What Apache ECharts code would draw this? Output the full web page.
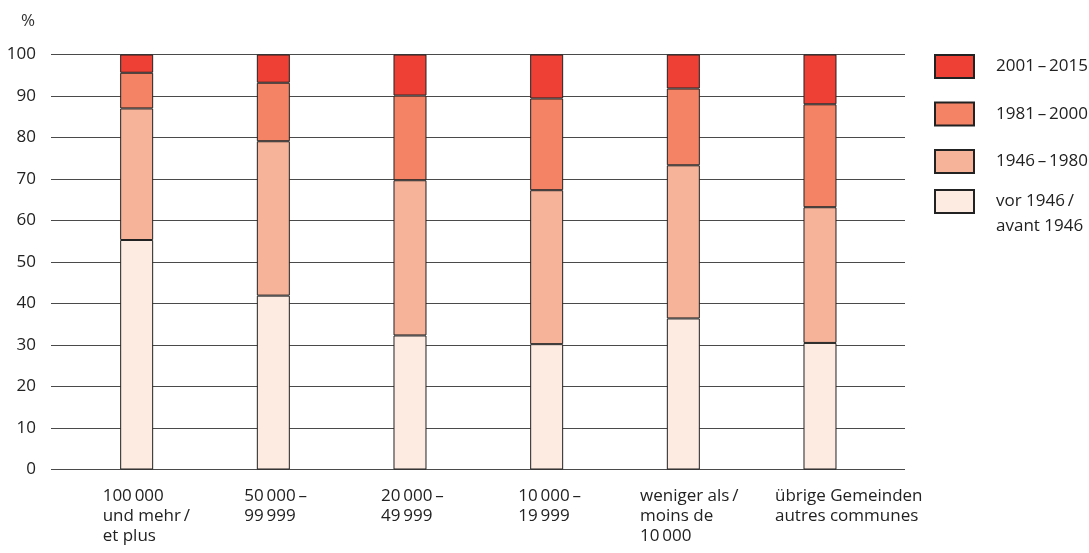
<!DOCTYPE html>
<html>
<head>
<meta charset="utf-8">
<script src="https://cdn.jsdelivr.net/npm/echarts@6/dist/echarts.min.js"></script>
<style>
html,body{margin:0;padding:0;background:#fff;}
#chart{width:1089px;height:553px;}
</style>
</head>
<body>
<div id="chart"></div>
<script>
// ---- data ----
var categories = [
  '100\u2009000\nund mehr\u2009/\net plus',
  '50\u2009000\u2009\u2013\n99\u2009999',
  '20\u2009000\u2009\u2013\n49\u2009999',
  '10\u2009000\u2009\u2013\n19\u2009999',
  'weniger als\u2009/\nmoins de\n10\u2009000',
  '\u00fcbrige Gemeinden\nautres communes'
];
var seriesNames = [
  'vor 1946\u2009/\navant 1946',
  '1946\u2009\u2013\u20091980',
  '1981\u2009\u2013\u20092000',
  '2001\u2009\u2013\u20092015'
];
var vor1946   = [55.3, 41.9, 32.3, 30.2, 36.4, 30.5];
var p1946_1980 = [31.7, 37.2, 37.4, 37.1, 36.9, 32.7];
var p1981_2000 = [8.6, 14.1, 20.4, 22.1, 18.5, 24.8];
var p2001_2015 = [4.4, 6.8, 9.9, 10.6, 8.2, 12.0];
var yTicks = [0, 10, 20, 30, 40, 50, 60, 70, 80, 90, 100];
var unitLabel = '%';

// ---- styling ----
var colors = ['#fdeae1', '#f7b39a', '#f48264', '#ee4035'];
var labelPads = [11, 16, 16, 16.6, 1.7, 0];
var FONT = '"Open Sans", "Noto Sans", sans-serif';
var TXT = '#222';

var chart = echarts.init(document.getElementById('chart'));
var values = [vor1946, p1946_1980, p1981_2000, p2001_2015];

var gTop = 54.5, gBottom = 83.5;
var labelStyle = {
  align: 'left', verticalAlign: 'top', fontSize: 17, lineHeight: 20, color: TXT, fontFamily: FONT
};
var option = {
  animation: false,
  textStyle: { fontFamily: FONT },
  title: {
    text: unitLabel, left: 21, top: 13, padding: 0,
    textStyle: { fontSize: 17, fontWeight: 'normal', color: '#333', fontFamily: FONT }
  },
  grid: [
    { left: 51, right: 184, top: gTop, bottom: gBottom },
    { left: 68.33, width: 820, top: gTop, bottom: gBottom },
    { left: 23.33, width: 820, top: gTop, bottom: gBottom }
  ],
  xAxis: [
    { gridIndex: 0, type: 'value', show: false, min: 0, max: 1 },
    { gridIndex: 1, type: 'category', data: categories, show: false },
    {
      gridIndex: 2, type: 'category',
      data: categories.map(function (c, i) {
        return { value: c, textStyle: Object.assign({ padding: [0, 0, 0, labelPads[i]] }, labelStyle) };
      }),
      axisLine: { show: false }, axisTick: { show: false }, splitLine: { show: false },
      axisLabel: Object.assign({ interval: 0, hideOverlap: false, margin: 17 }, labelStyle)
    }
  ],
  yAxis: [
    {
      gridIndex: 0, type: 'value', min: yTicks[0], max: yTicks[yTicks.length - 1], interval: 10,
      axisLine: { show: false }, axisTick: { show: false },
      splitLine: { show: true, lineStyle: { color: '#4a4a4a', width: 1 } },
      axisLabel: { fontSize: 17, color: TXT, margin: 15, fontFamily: FONT }
    },
    { gridIndex: 1, type: 'value', min: 0, max: 100, show: false },
    { gridIndex: 2, type: 'value', min: 0, max: 100, show: false }
  ],
  legend: [
    {
      data: [seriesNames[3], seriesNames[2], seriesNames[1]],
      orient: 'vertical', left: 934, top: 54, padding: 0,
      itemWidth: 39, itemHeight: 23, itemGap: 22.5, icon: 'rect',
      selectedMode: false,
      textStyle: { fontSize: 17, color: TXT, lineHeight: 20, padding: [0, 0, 0, 17], fontFamily: FONT }
    },
    {
      data: [seriesNames[0]],
      orient: 'vertical', left: 934, top: 164, padding: 0,
      itemWidth: 39, itemHeight: 23, icon: 'rect',
      selectedMode: false,
      formatter: function (name) { return '\n' + name; },
      textStyle: { fontSize: 17, color: TXT, lineHeight: 25, padding: [0, 0, 0, 17], fontFamily: FONT }
    }
  ],
  series: seriesNames.map(function (name, i) {
    return {
      name: name, type: 'bar', stack: 'total',
      xAxisIndex: 1, yAxisIndex: 1,
      barWidth: 33,
      data: values[i],
      itemStyle: { color: colors[i], borderColor: '#222', borderWidth: 1 },
      emphasis: { disabled: true }
    };
  })
};
chart.setOption(option);
</script>
</body>
</html>
